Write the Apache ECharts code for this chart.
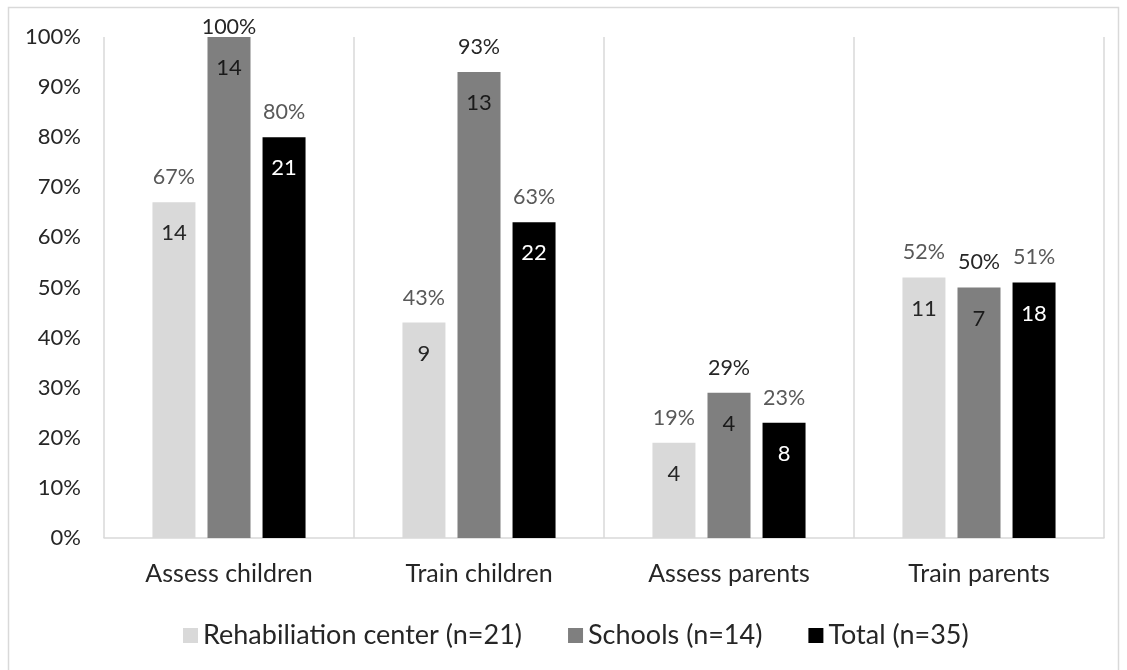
<!DOCTYPE html>
<html>
<head>
<meta charset="utf-8">
<script src="https://cdn.jsdelivr.net/npm/echarts@6/dist/echarts.min.js"></script>
<style>
  html, body { margin: 0; padding: 0; background: #ffffff; }
  #chart { width: 1127px; height: 670px; }
</style>
</head>
<body>
<div id="chart"></div>
<script>
// Categories and series (share of respondents, %, and respondent counts)
const categories = ['Assess children', 'Train children', 'Assess parents', 'Train parents'];
const seriesNames = ['Rehabiliation center (n=21)', 'Schools (n=14)', 'Total (n=35)'];

const rehabPct = [67, 43, 19, 52];
const schoolsPct = [100, 93, 29, 50];
const totalPct = [80, 63, 23, 51];

const rehabCount = [14, 9, 4, 11];
const schoolsCount = [14, 13, 4, 7];
const totalCount = [21, 22, 8, 18];

const yTicks = [0, 10, 20, 30, 40, 50, 60, 70, 80, 90, 100];

const FONT = 'Lato, "Noto Sans", sans-serif';
const pctData = [rehabPct, schoolsPct, totalPct];
const countData = [rehabCount, schoolsCount, totalCount];
const barColors = ['#d9d9d9', '#7f7f7f', '#000000'];
const countColors = ['#262626', '#1a1a1a', '#ffffff'];
const pctColors = ['#595959', '#262626', '#595959'];

const chart = echarts.init(document.getElementById('chart'), null, { renderer: 'canvas' });

const barSeries = pctData.map((vals, i) => ({
  name: seriesNames[i],
  type: 'bar',
  xAxisIndex: 0,
  data: vals,
  barWidth: 43,
  barGap: '28%',
  itemStyle: { color: barColors[i] },
  label: {
    show: true,
    position: 'insideTop',
    distance: 20,
    fontFamily: FONT,
    fontSize: 22,
    color: countColors[i],
    formatter: p => String(countData[i][p.dataIndex])
  },
  emphasis: { disabled: true }
}));

// Transparent twins on an overlaid axis carry the percentage labels above the bars;
// a full-height bar keeps its label tucked just above the plot top
const pctSeries = pctData.map((vals, i) => ({
  name: 'pct-' + i,
  type: 'bar',
  xAxisIndex: 1,
  data: vals.map(v => (v >= yTicks[yTicks.length - 1] ? { value: v, label: { distance: -1 } } : v)),
  barWidth: 43,
  barGap: '28%',
  itemStyle: { color: 'rgba(0,0,0,0)' },
  label: {
    show: true,
    position: 'top',
    distance: 14,
    fontFamily: FONT,
    fontSize: 21.5,
    color: pctColors[i],
    formatter: '{c}%'
  },
  silent: true,
  emphasis: { disabled: true }
}));

chart.setOption({
  animation: false,
  backgroundColor: '#ffffff',
  graphic: [{
    type: 'rect',
    shape: { x: 8.5, y: 7.5, width: 1110, height: 680 },
    style: { fill: 'none', stroke: '#d9d9d9', lineWidth: 1.5 },
    silent: true
  }],
  grid: { left: 104, right: 23, top: 37, bottom: 132, containLabel: false },
  legend: {
    data: seriesNames,
    top: 617,
    left: 178,
    icon: 'rect',
    itemWidth: 15,
    itemHeight: 15,
    itemGap: 46,
    textStyle: { fontFamily: FONT, fontSize: 27, color: '#262626' },
    selectedMode: false
  },
  xAxis: [{
    type: 'category',
    data: categories,
    axisLine: { show: true, lineStyle: { color: '#d9d9d9', width: 1.5 } },
    axisTick: { show: false },
    splitLine: { show: true, lineStyle: { color: '#d9d9d9', width: 1.5 } },
    axisLabel: { fontFamily: FONT, fontSize: 25, color: '#262626', margin: 23 }
  }, {
    type: 'category',
    data: categories,
    show: false
  }],
  yAxis: {
    type: 'value',
    min: yTicks[0],
    max: yTicks[yTicks.length - 1],
    interval: yTicks[1] - yTicks[0],
    axisLine: { show: false },
    axisTick: { show: false },
    splitLine: { show: false },
    axisLabel: { fontFamily: FONT, fontSize: 22, color: '#262626', margin: 23, formatter: '{value}%' }
  },
  series: [...barSeries, ...pctSeries]
});
</script>
</body>
</html>
